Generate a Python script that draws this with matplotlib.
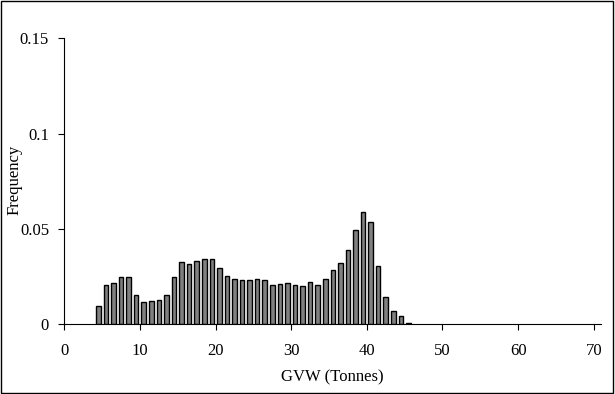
import numpy as np
import matplotlib
matplotlib.use("Agg")
import matplotlib.pyplot as plt
from matplotlib.patches import Rectangle

plt.rcParams['font.family'] = ['Liberation Serif', 'DejaVu Serif']

# GVW bins (tonnes, lower edge) and relative frequency
gvw_bins = list(range(4, 46))
freq = [0.0093, 0.0203, 0.0213, 0.0248, 0.0248, 0.0152, 0.0114, 0.0119, 0.0128,
        0.0152, 0.0248, 0.0323, 0.0313, 0.0329, 0.0339, 0.0339, 0.0294, 0.0253,
        0.0234, 0.0229, 0.0229, 0.0234, 0.0229, 0.0203, 0.0208, 0.0213, 0.0203,
        0.0198, 0.0219, 0.0203, 0.0234, 0.0285, 0.0318, 0.0386, 0.0495, 0.0586,
        0.0535, 0.0302, 0.0143, 0.0066, 0.0042, 0.0007]
xticks = [0, 10, 20, 30, 40, 50, 60, 70]
yticks = [0, 0.05, 0.1, 0.15]
ytick_labels = ["0", "0.05", "0.1", "0.15"]

fig = plt.figure(figsize=(6.15, 3.94), dpi=100)
ax = fig.add_axes([0.1046, 0.1777, 0.8731, 0.7251])

centers = np.array(gvw_bins) + 0.5
ax.bar(centers, freq, width=0.6, color="#808080", edgecolor="black", linewidth=1.0)

ax.set_xlim(0, 71)
ax.set_ylim(0, 0.15)
ax.set_xticks(xticks)
ax.set_yticks(yticks)
ax.set_yticklabels(ytick_labels)
ax.tick_params(direction="out", length=4, width=0.8, labelsize=12, colors="black")
ax.tick_params(axis="x", pad=10)
ax.tick_params(axis="y", pad=7)

for side in ["top", "right"]:
    ax.spines[side].set_visible(False)
for side in ["left", "bottom"]:
    ax.spines[side].set_linewidth(0.8)

ax.set_xlabel("GVW (Tonnes)", fontsize=12, labelpad=7)
ax.set_ylabel("Frequency", fontsize=12, va="center")
# axis fraction: x=14px from figure left, centred at y=180px
ax.yaxis.set_label_coords(-(64.3 - 14) / (0.8731 * 615), (324 - 180) / (0.7251 * 394))

# outer border
fig.patches.append(Rectangle((0.002, 0.003), 0.995, 0.994, transform=fig.transFigure,
                             fill=False, edgecolor="black", linewidth=1.0))

fig.savefig("out.png", dpi=100)
